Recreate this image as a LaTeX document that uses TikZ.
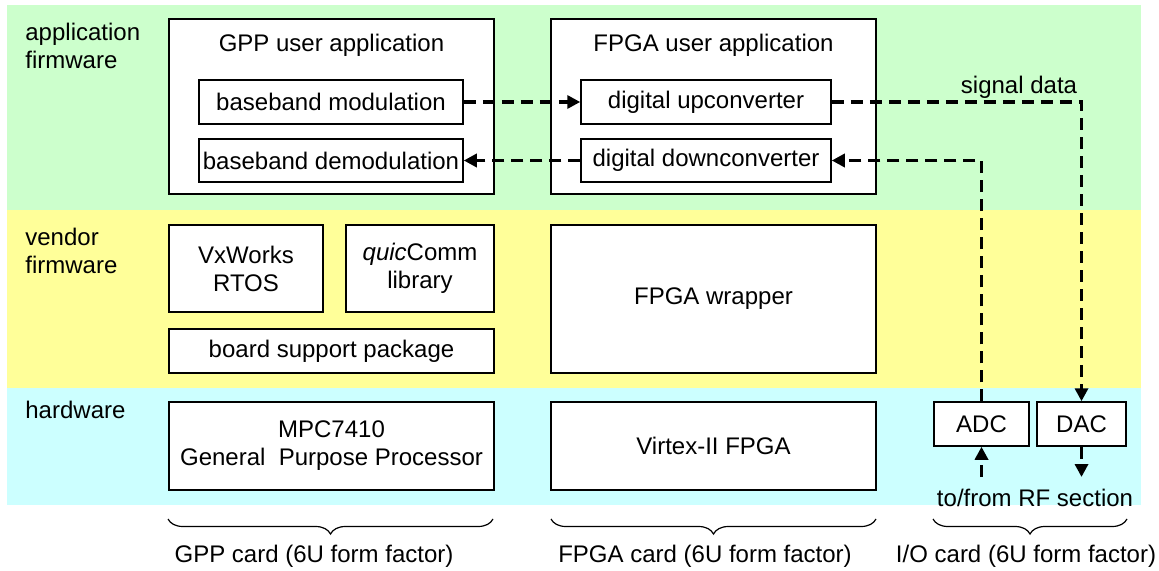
\documentclass[tikz,border=0pt]{standalone}
\usepackage{fontspec}
\setmainfont{Liberation Sans}
\usetikzlibrary{arrows.meta,decorations.pathreplacing,calc}
\definecolor{appgreen}{RGB}{204,255,204}
\definecolor{vendyellow}{RGB}{255,255,153}
\definecolor{hwcyan}{RGB}{204,255,255}
\tikzset{
  box/.style={draw=black, fill=white, line width=0.75pt, inner sep=0pt, align=center},
  txt/.style={inner sep=0pt, align=center},
  lefttxt/.style={inner sep=0pt, align=left, anchor=west},
  flow/.style={line width=1.75pt, dash pattern=on 6pt off 3.5pt,
    -{Triangle[length=6.5pt,width=6.5pt]}},
  cardbrace/.style={decorate, decoration={brace, mirror, amplitude=7.5pt}, line width=0.6pt}
}
\begin{document}
\begin{tikzpicture}[x=0.5pt, y=-0.5pt, font=\fontsize{12}{14}\selectfont]
\useasboundingbox (0,0) rectangle (1159,571);
% layer bands
\fill[appgreen]   (7,5)   rectangle (1141,210);
\fill[vendyellow] (7,210) rectangle (1141,388);
\fill[hwcyan]     (7,388) rectangle (1141,505);
% layer names
\node[lefttxt] (lapp) at (25,46) {application\\firmware};
\node[lefttxt] (lven) at (25,251) {vendor\\firmware};
\node[lefttxt] (lhw)  at (25,410) {hardware};
% application firmware
\node[box, minimum width=162.5pt, minimum height=87.5pt] (gppapp) at (331.5,106.5) {};
\node[txt] (gppapptxt) at (331.5,45) {GPP user application};
\node[box, minimum width=132pt, minimum height=22pt] (bbmod) at (331,102) {baseband modulation};
\node[box, minimum width=132pt, minimum height=21.5pt] (bbdemod) at (331,160.5) {baseband demodulation};
\node[box, minimum width=162.5pt, minimum height=87.5pt] (fpgaapp) at (713.5,106.5) {};
\node[txt] (fpgaapptxt) at (713.5,45) {FPGA user application};
\node[box, minimum width=125pt, minimum height=22pt] (duc) at (706,102) {digital upconverter};
\node[box, minimum width=125pt, minimum height=21.5pt] (ddc) at (706,160.5) {digital downconverter};
% vendor firmware
\node[box, minimum width=77pt, minimum height=43.5pt] (vx) at (246,268.5) {VxWorks\\RTOS};
\node[box, minimum width=74pt, minimum height=43.5pt] (quic) at (420,268.5) {\textit{quic}Comm\\library};
\node[box, minimum width=162.5pt, minimum height=22pt] (bsp) at (331.5,351) {board support package};
\node[box, minimum width=162.5pt, minimum height=74pt] (wrap) at (713.5,299) {FPGA wrapper};
% hardware
\node[box, minimum width=162.5pt, minimum height=44pt] (mpc) at (331.5,446) {MPC7410\\General\ \ Purpose Processor};
\node[box, minimum width=162.5pt, minimum height=44pt] (virtex) at (713.5,446) {Virtex-II FPGA};
\node[box, minimum width=47.5pt, minimum height=22pt] (adc) at (981.5,424) {ADC};
\node[box, minimum width=44.5pt, minimum height=22pt] (dac) at (1081.5,424) {DAC};
% signal data flow
\draw[flow] (bbmod.east) -- (duc.west);
\draw[flow] (ddc.west) -- (bbdemod.east);
\draw[flow] (duc.east) -| (dac.north);
\draw[flow] (adc.north) |- (ddc.east);
\coordinate (rfin)  at (adc.south |- 0,477);
\coordinate (rfout) at (dac.south |- 0,477);
\draw[flow] (rfin) -- (adc.south);
\draw[flow] (dac.south) -- (rfout);
\node[txt] (sigtxt) at (1019,87) {signal data};
\node[txt] (rftxt) at (1035,498) {to/from RF section};
% cards
\coordinate (gppL) at (168,519);  \coordinate (gppR) at (493,519);
\coordinate (fpgL) at (551,519);  \coordinate (fpgR) at (876,519);
\coordinate (ioL)  at (933,519);  \coordinate (ioR)  at (1127,519);
\draw[cardbrace] (gppL) -- (gppR);
\draw[cardbrace] (fpgL) -- (fpgR);
\draw[cardbrace] (ioL) -- (ioR);
\node[txt] (gppcard) at (314,556) {GPP card (6U form factor)};
\node[txt] (fpgacard) at (705,556) {FPGA card (6U form factor)};
\node[txt] (iocard) at (1026,556) {I/O card (6U form factor)};
\end{tikzpicture}
\end{document}
